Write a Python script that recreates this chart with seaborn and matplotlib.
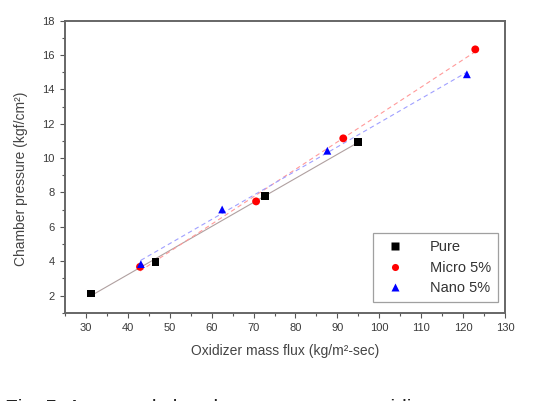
import numpy as np
import pandas as pd
import matplotlib
matplotlib.use("Agg")
import matplotlib.pyplot as plt
import seaborn as sns

# values
pure_x = [31.2, 46.6, 72.8, 94.9]
pure_y = [2.12, 3.97, 7.81, 10.95]
micro_x = [42.9, 70.6, 91.4, 122.9]
micro_y = [3.67, 7.48, 11.15, 16.33]
nano_x = [43.1, 62.5, 87.6, 120.9]
nano_y = [3.83, 7.01, 10.43, 14.88]
groups = ["Pure", "Micro 5%", "Nano 5%"]
x_ticks = [30, 40, 50, 60, 70, 80, 90, 100, 110, 120, 130]
y_ticks = [2, 4, 6, 8, 10, 12, 14, 16, 18]

df = pd.DataFrame({
    "flux": pure_x + micro_x + nano_x,
    "pressure": pure_y + micro_y + nano_y,
    "group": [groups[0]] * len(pure_x) + [groups[1]] * len(micro_x) + [groups[2]] * len(nano_x),
})

sns.set_style("ticks")
plt.rcParams["font.family"] = ["Liberation Sans", "DejaVu Sans"]

fig = plt.figure(figsize=(5.49, 4.01), dpi=100)
ax = fig.add_axes([0.1184, 0.2202, 0.8015, 0.7282])

# fitted lines (linear fit per group)
line_styles = {
    "Pure": dict(color="#b0a0a0", ls="-", lw=0.8),
    "Micro 5%": dict(color="#ff9a9a", ls=(0, (4, 3)), lw=0.8),
    "Nano 5%": dict(color="#a0a0ff", ls=(0, (4, 3)), lw=0.8),
}
for g in groups:
    sub = df[df["group"] == g]
    sns.regplot(data=sub, x="flux", y="pressure", ax=ax, scatter=False, ci=None,
                line_kws=line_styles[g])

palette = {"Pure": "black", "Micro 5%": "red", "Nano 5%": "blue"}
markers = {"Pure": "s", "Micro 5%": "o", "Nano 5%": "^"}
sns.scatterplot(data=df, x="flux", y="pressure", hue="group", style="group",
                palette=palette, markers=markers, s=32, edgecolor="none",
                hue_order=groups, style_order=groups, ax=ax, zorder=3)

ax.set_xlim(25, 130)
ax.set_ylim(1, 18)
ax.set_xticks(x_ticks)
ax.set_yticks(y_ticks)
ax.set_xticks(np.arange(25, 131, 5), minor=True)
ax.set_yticks(np.arange(1, 19, 1), minor=True)
ax.tick_params(axis="both", which="major", direction="out", length=3.5, width=0.8,
               color="#555555", labelsize=8, labelcolor="#3a3a3a", pad=4)
ax.tick_params(axis="both", which="minor", direction="out", length=2, width=0.8, color="#555555")
for side in ["top", "right", "bottom", "left"]:
    ax.spines[side].set_visible(True)
    ax.spines[side].set_color("#666666")
    ax.spines[side].set_linewidth(1.4)

ax.set_xlabel("Oxidizer mass flux (kg/m\u00b2-sec)", fontsize=10, color="#444444", labelpad=8)
ax.set_ylabel("Chamber pressure (kgf/cm\u00b2)", fontsize=10, color="#444444", labelpad=8)
ax.yaxis.set_label_coords(-0.085, 0.46)

leg = ax.legend(loc="lower right", bbox_to_anchor=(0.985, 0.035), borderaxespad=0,
                fontsize=10.5, frameon=True, fancybox=False, edgecolor="#888888",
                handletextpad=1.4, borderpad=0.5, labelspacing=0.45, markerscale=0.9)
leg.get_frame().set_linewidth(0.9)
for t in leg.get_texts():
    t.set_color("#333333")

# caption, cut off at the bottom edge as in the source image
fig.text(0.01, 0.004, "Fig. 5. Averaged chamber pressure vs. oxidizer", fontsize=15,
         color="#222222", va="top")

fig.savefig("out.png", dpi=100)
